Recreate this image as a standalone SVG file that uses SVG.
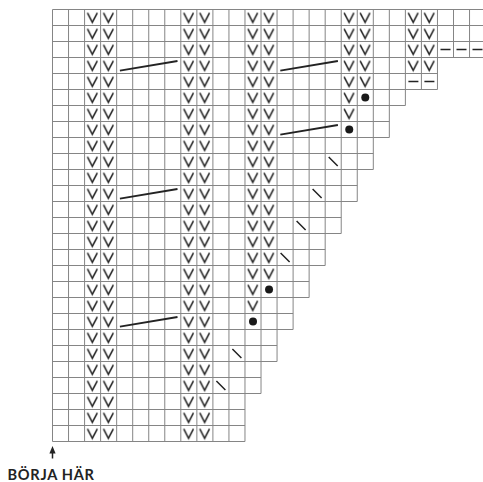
<svg xmlns="http://www.w3.org/2000/svg" width="483" height="482" viewBox="0 0 483 482">
<style>
.grid{fill:none;stroke:#858585;stroke-width:1}
.sym{fill:none;stroke:#232323;stroke-width:1.5;stroke-linecap:butt}
.cable{fill:none;stroke:#232323;stroke-width:1.8}
.dot{fill:#1a1a1a}
.label{font-family:Lato,"Open Sans","Liberation Sans",sans-serif;font-weight:700;font-size:14.6px;fill:#232323;letter-spacing:0.7px}
</style>
<defs>
<pattern id="vp" patternUnits="userSpaceOnUse" x="52.5" y="9.5" width="16.04" height="16">
<path d="M2.9,3.4 L7.8,12.9 L12.7,3.4" fill="none" stroke="#232323" stroke-width="1.55"/>
</pattern>
</defs>
<rect width="483" height="482" fill="#fff"/>
<g id="grid" class="grid">
<path d="M52.5,9.5H485.58M52.5,25.5H485.58M52.5,41.5H485.58M52.5,57.5H485.58M52.5,73.5H437.46M52.5,89.5H437.46M52.5,105.5H405.38M52.5,121.5H389.34M52.5,137.5H389.34M52.5,153.5H373.3M52.5,169.5H373.3M52.5,185.5H357.26M52.5,201.5H357.26M52.5,217.5H341.22M52.5,233.5H341.22M52.5,249.5H325.18M52.5,265.5H325.18M52.5,281.5H309.14M52.5,297.5H309.14M52.5,313.5H293.1M52.5,329.5H293.1M52.5,345.5H277.06M52.5,361.5H277.06M52.5,377.5H261.02M52.5,393.5H261.02M52.5,409.5H244.98M52.5,425.5H244.98M52.5,441.5H244.98"/>
<path d="M52.5,9.5V441.5M68.54,9.5V441.5M84.58,9.5V441.5M100.62,9.5V441.5M116.66,9.5V441.5M132.7,9.5V441.5M148.74,9.5V441.5M164.78,9.5V441.5M180.82,9.5V441.5M196.86,9.5V441.5M212.9,9.5V441.5M228.94,9.5V441.5M244.98,9.5V441.5M261.02,9.5V393.5M277.06,9.5V361.5M293.1,9.5V329.5M309.14,9.5V297.5M325.18,9.5V265.5M341.22,9.5V233.5M357.26,9.5V201.5M373.3,9.5V169.5M389.34,9.5V137.5M405.38,9.5V105.5M421.42,9.5V89.5M437.46,9.5V89.5M453.5,9.5V57.5M469.54,9.5V57.5"/>
</g>
<g id="knit-stitches">
<rect x="84.58" y="9.5" width="32.08" height="432" fill="url(#vp)"/>
<rect x="180.82" y="9.5" width="32.08" height="432" fill="url(#vp)"/>
<rect x="244.98" y="9.5" width="32.08" height="272" fill="url(#vp)"/>
<rect x="244.98" y="281.5" width="16.04" height="32" fill="url(#vp)"/>
<rect x="341.22" y="9.5" width="32.08" height="80" fill="url(#vp)"/>
<rect x="341.22" y="89.5" width="16.04" height="32" fill="url(#vp)"/>
<rect x="405.38" y="9.5" width="32.08" height="64" fill="url(#vp)"/>
</g>
<g id="bind-off" class="sym">
<path d="M440.5,49.5h10M456.5,49.5h10M472.5,49.5h10M408.4,81.5h10M424.4,81.5h10"/>
</g>
<g id="yarn-overs">
<circle class="dot" cx="365.28" cy="97.5" r="4"/>
<circle class="dot" cx="349.24" cy="129.5" r="4"/>
<circle class="dot" cx="269.04" cy="289.5" r="4"/>
<circle class="dot" cx="253" cy="321.5" r="4"/>
</g>
<g id="decreases" class="sym">
<path d="M328.7,157L337.7,166M312.6,189L321.6,198M296.6,221L305.6,230M280.6,253L289.6,262M232.4,349L241.4,358M216.4,381L225.4,390"/>
</g>
<g id="cables" class="cable">
<path d="M119.9,70.7L177.5,61M280.3,70.7L337.9,61M280.3,134.7L337.9,125M119.9,198.7L177.5,189M119.9,326.7L177.5,317"/>
</g>
<g id="start">
<path d="M52.5,458.5V451" stroke="#232323" stroke-width="1.5"/>
<path d="M52.5,446L55.6,453.5H49.4Z" fill="#232323"/>
<text class="label" x="7.5" y="479.5">BÖRJA HÄR</text>
</g>
</svg>
